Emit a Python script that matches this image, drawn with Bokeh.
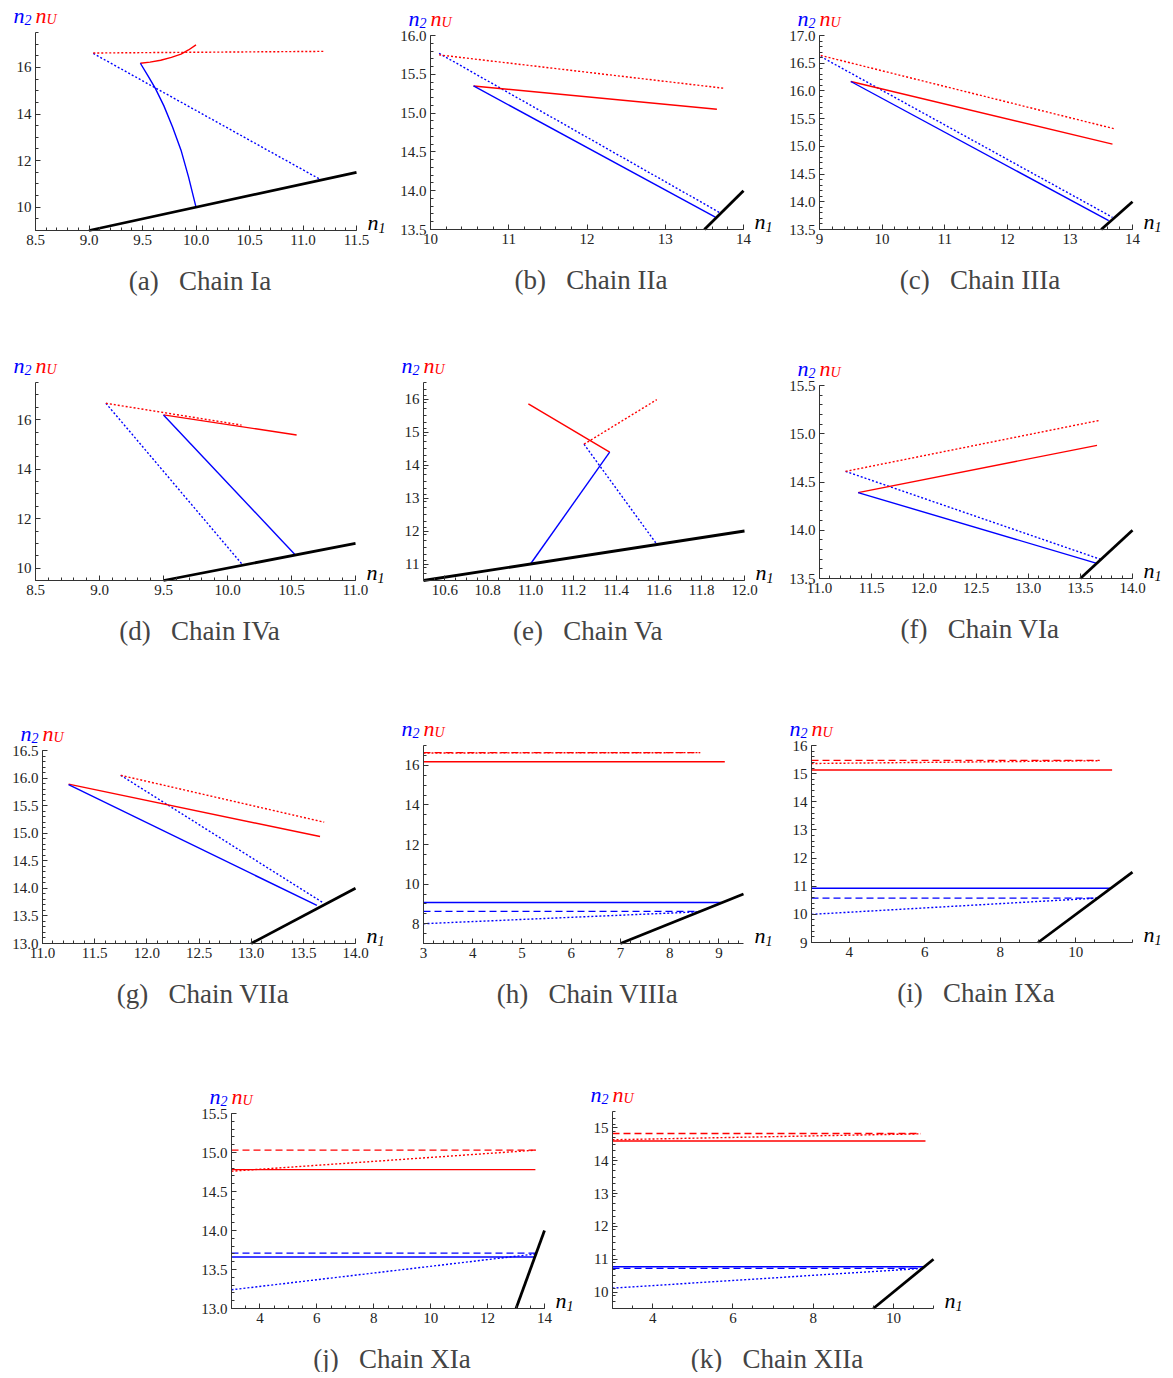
from bokeh.plotting import figure
from bokeh.models import Range1d, FixedTicker, PrintfTickFormatter, Label
from bokeh.layouts import row, column
from bokeh.embed import file_html
from bokeh.resources import INLINE
import numpy as np

BLUE = "#0000FF"
RED = "#FF0000"

# ---------------- data ----------------
# (a) Chain Ia
a_blue_solid = ([9.48, 9.55, 9.62, 9.70, 9.78, 9.86, 9.93, 10.0], [16.18, 15.65, 15.10, 14.35, 13.45, 12.45, 11.30, 10.0])
a_blue_dot = ([9.04, 11.17], [16.60, 11.17])
a_red_solid = ([9.48, 9.57, 9.67, 9.77, 9.86, 9.93, 10.0], [16.18, 16.23, 16.31, 16.43, 16.57, 16.75, 16.97])
a_red_dot = ([9.04, 11.19], [16.62, 16.69])
a_black = ([9.0, 11.5], [9.0, 11.5])
a_xticks = [8.5, 9.0, 9.5, 10.0, 10.5, 11.0, 11.5]
a_yticks = [10, 12, 14, 16]

# (b) Chain IIa
b_blue_solid = ([10.55, 13.64], [15.35, 13.66])
b_blue_dot = ([10.11, 13.71], [15.77, 13.71])
b_red_solid = ([10.55, 13.66], [15.35, 15.05])
b_red_dot = ([10.11, 13.75], [15.75, 15.32])
b_black = ([13.5, 14.0], [13.5, 14.0])
b_xticks = [10, 11, 12, 13, 14]
b_yticks = [13.5, 14.0, 14.5, 15.0, 15.5, 16.0]

# (c) Chain IIIa
c_blue_solid = ([9.50, 13.62], [16.17, 13.66])
c_blue_dot = ([9.02, 13.68], [16.62, 13.72])
c_red_solid = ([9.50, 13.68], [16.17, 15.04])
c_red_dot = ([9.02, 13.70], [16.64, 15.32])
c_black = ([13.5, 14.0], [13.5, 14.0])
c_xticks = [9, 10, 11, 12, 13, 14]
c_yticks = [13.5, 14.0, 14.5, 15.0, 15.5, 16.0, 16.5, 17.0]

# (d) Chain IVa
d_blue_solid = ([9.50, 10.53], [16.19, 10.53])
d_blue_dot = ([9.05, 10.12], [16.66, 10.12])
d_red_solid = ([9.50, 10.54], [16.19, 15.38])
d_red_dot = ([9.05, 10.11], [16.66, 15.78])
d_black = ([9.5, 11.0], [9.5, 11.0])
d_xticks = [8.5, 9.0, 9.5, 10.0, 10.5, 11.0]
d_yticks = [10, 12, 14, 16]

# (e) Chain Va
e_blue_solid = ([11.0, 11.37], [11.0, 14.39])
e_blue_dot = ([11.25, 11.59], [14.63, 11.60])
e_red_solid = ([10.99, 11.37], [15.85, 14.39])
e_red_dot = ([11.25, 11.59], [14.63, 15.98])
e_black = ([10.5, 12.0], [10.5, 12.0])
e_xticks = [10.6, 10.8, 11.0, 11.2, 11.4, 11.6, 11.8, 12.0]
e_yticks = [11, 12, 13, 14, 15, 16]

# (f) Chain VIa
f_blue_solid = ([11.37, 13.65], [14.39, 13.66])
f_blue_dot = ([11.25, 13.69], [14.61, 13.70])
f_red_solid = ([11.37, 13.66], [14.39, 14.88])
f_red_dot = ([11.25, 13.69], [14.61, 15.14])
f_black = ([13.5, 14.0], [13.5, 14.0])
f_xticks = [11.0, 11.5, 12.0, 12.5, 13.0, 13.5, 14.0]
f_yticks = [13.5, 14.0, 14.5, 15.0, 15.5]

# (g) Chain VIIa
g_blue_solid = ([11.25, 13.63], [15.88, 13.69])
g_blue_dot = ([11.75, 13.68], [16.05, 13.75])
g_red_solid = ([11.25, 13.66], [15.89, 14.94])
g_red_dot = ([11.75, 13.70], [16.05, 15.20])
g_black = ([13.0, 14.0], [13.0, 14.0])
g_xticks = [11.0, 11.5, 12.0, 12.5, 13.0, 13.5, 14.0]
g_yticks = [13.0, 13.5, 14.0, 14.5, 15.0, 15.5, 16.0, 16.5]

# (h) Chain VIIIa
h_blue_solid = ([3, 9.05], [9.07, 9.07])
h_blue_dash = ([3, 8.6], [8.62, 8.62])
h_blue_dot = ([3, 8.6], [8.0, 8.6])
h_red_solid = ([3, 9.12], [16.18, 16.18])
h_red_dash = ([3, 8.62], [16.64, 16.64])
h_red_dot = ([3, 8.62], [16.62, 16.64])
h_black = ([7.0, 9.5], [7.0, 9.5])
h_xticks = [3, 4, 5, 6, 7, 8, 9]
h_yticks = [8, 10, 12, 14, 16]

# (i) Chain IXa
i_blue_solid = ([3, 10.95], [10.93, 10.93])
i_blue_dash = ([3, 10.6], [10.58, 10.58])
i_blue_dot = ([3, 10.6], [10.0, 10.58])
i_red_solid = ([3, 10.96], [15.13, 15.13])
i_red_dash = ([3, 10.63], [15.47, 15.47])
i_red_dot = ([3, 10.63], [15.36, 15.46])
i_black = ([9.0, 11.5], [9.0, 11.5])
i_xticks = [4, 6, 8, 10]
i_yticks = [9, 10, 11, 12, 13, 14, 15, 16]

# (j) Chain XIa
j_blue_solid = ([3, 13.66], [13.66, 13.66])
j_blue_dash = ([3, 13.7], [13.71, 13.71])
j_blue_dot = ([3, 13.7], [13.24, 13.70])
j_red_solid = ([3, 13.68], [14.78, 14.78])
j_red_dash = ([3, 13.69], [15.03, 15.03])
j_red_dot = ([3, 13.69], [14.76, 15.03])
j_black = ([13.0, 14.0], [13.0, 14.0])
j_xticks = [4, 6, 8, 10, 12, 14]
j_yticks = [13.0, 13.5, 14.0, 14.5, 15.0, 15.5]

# (k) Chain XIIa
k_blue_solid = ([3, 10.77], [10.77, 10.77])
k_blue_dash = ([3, 10.7], [10.72, 10.72])
k_blue_dot = ([3, 10.7], [10.12, 10.72])
k_red_solid = ([3, 10.8], [14.60, 14.60])
k_red_dash = ([3, 10.68], [14.83, 14.83])
k_red_dot = ([3, 10.68], [14.64, 14.82])
k_black = ([9.5, 11.0], [9.5, 11.0])
k_xticks = [4, 6, 8, 10]
k_yticks = [10, 11, 12, 13, 14, 15]

# ---------------- styling ----------------
SERIF = "Liberation Serif"
AX = "#333333"
DOT = "2 2"
DASH = "7 4"


def make_panel(letter, name, xr, yr, xt, yt, xfmt, yfmt, xminor, yminor, series, geom):
    # geom: cell width/height, frame offset left, frame width, frame offset top, frame height (pixels)
    cw, ch, L, W, T, H = geom
    sx = W / (xr[1] - xr[0])
    sy = H / (yr[1] - yr[0])
    B = ch - T - H
    x0 = xr[0] - L / sx
    x1 = xr[0] + (cw - L) / sx
    y0 = yr[0] - B / sy
    y1 = yr[1] + T / sy
    p = figure(frame_width=cw, frame_height=ch, min_border=0,
               x_range=Range1d(x0, x1), y_range=Range1d(y0, y1),
               output_backend="svg", toolbar_location=None)
    p.grid.visible = False
    p.outline_line_color = None
    p.background_fill_color = "white"
    p.border_fill_color = "white"

    xminors = [round(float(v), 4) for v in np.arange(xr[0], xr[1] + 1e-9, xminor)]
    yminors = [round(float(v), 4) for v in np.arange(yr[0], yr[1] + 1e-9, yminor)]
    p.xaxis.ticker = FixedTicker(ticks=xt, minor_ticks=xminors)
    p.yaxis.ticker = FixedTicker(ticks=yt, minor_ticks=yminors)
    p.xaxis.formatter = PrintfTickFormatter(format=xfmt)
    p.yaxis.formatter = PrintfTickFormatter(format=yfmt)
    p.xaxis.fixed_location = yr[0]
    p.yaxis.fixed_location = xr[0]
    p.xaxis.bounds = (xr[0], xr[1])
    p.yaxis.bounds = (yr[0], yr[1])
    for ax in (p.xaxis, p.yaxis):
        ax.axis_line_color = AX
        ax.axis_line_width = 1
        ax.major_tick_in = 5
        ax.major_tick_out = 0
        ax.minor_tick_in = 3
        ax.minor_tick_out = 0
        ax.major_tick_line_color = AX
        ax.minor_tick_line_color = AX
        ax.major_label_text_font = SERIF
        ax.major_label_text_font_size = "15px"
        ax.major_label_text_color = "#222222"
        ax.major_label_standoff = 4

    for (xs, ys), color, dash, lw in series:
        p.line(xs, ys, line_color=color, line_width=lw, line_dash=dash)

    def lab(x, y, xo, yo, text, color, size, italic=True, align="left", baseline="alphabetic"):
        p.add_layout(Label(x=x, y=y, x_offset=xo, y_offset=yo, text=text,
                           text_color=color, text_font=SERIF,
                           text_font_style="italic" if italic else "normal",
                           text_font_size=size, text_align=align,
                           text_baseline=baseline))

    # y-axis label  n2 nU
    lab(xr[0], yr[1], -22, 17, "n", BLUE, "22px")
    lab(xr[0], yr[1], -11, 13, "2", BLUE, "14px")
    lab(xr[0], yr[1], 0, 17, "n", RED, "22px")
    lab(xr[0], yr[1], 11, 13, "U", RED, "14px")
    # x-axis label n1
    lab(xr[1], yr[0], 11, 8, "n", "black", "22px")
    lab(xr[1], yr[0], 22, 3, "1", "black", "14px")
    # caption
    p.add_layout(Label(x=(xr[0] + xr[1]) / 2, y=yr[0], x_offset=4, y_offset=-50,
                       text="(" + letter + ")\u00a0\u00a0\u00a0" + name,
                       text_color="#444444", text_font=SERIF, text_font_size="27px",
                       text_align="center", text_baseline="middle"))
    return p


def four(bs, bd, rs, rd, bk):
    return [(bd, BLUE, DOT, 1.4), (rd, RED, DOT, 1.4), (rs, RED, "solid", 1.4),
            (bs, BLUE, "solid", 1.4), (bk, "black", "solid", 2.8)]


def six(bs, bda, bd, rs, rda, rd, bk):
    return [(bd, BLUE, DOT, 1.4), (bda, BLUE, DASH, 1.3), (bs, BLUE, "solid", 1.4),
            (rd, RED, DOT, 1.4), (rda, RED, DASH, 1.3), (rs, RED, "solid", 1.4),
            (bk, "black", "solid", 2.8)]


pa = make_panel("a", "Chain Ia", (8.5, 11.5), (9, 17.5), a_xticks, a_yticks, "%.1f", "%d", 0.1, 0.5,
                four(a_blue_solid, a_blue_dot, a_red_solid, a_red_dot, a_black), (398, 340, 35, 321, 32, 198))
pb = make_panel("b", "Chain IIa", (10, 14), (13.5, 16.0), b_xticks, b_yticks, "%d", "%.1f", 0.2, 0.1,
                four(b_blue_solid, b_blue_dot, b_red_solid, b_red_dot, b_black), (390, 340, 32, 313, 35, 194))
pc = make_panel("c", "Chain IIIa", (9, 14), (13.5, 17.0), c_xticks, c_yticks, "%d", "%.1f", 0.2, 0.1,
                four(c_blue_solid, c_blue_dot, c_red_solid, c_red_dot, c_black), (380, 340, 31, 313, 35, 194))

pd = make_panel("d", "Chain IVa", (8.5, 11.0), (9.5, 17.5), d_xticks, d_yticks, "%.1f", "%d", 0.1, 0.5,
                four(d_blue_solid, d_blue_dot, d_red_solid, d_red_dot, d_black), (398, 360, 35, 320, 42, 198))
pe = make_panel("e", "Chain Va", (10.5, 12.0), (10.5, 16.5), e_xticks, e_yticks, "%.1f", "%d", 0.05, 0.2,
                four(e_blue_solid, e_blue_dot, e_red_solid, e_red_dot, e_black), (390, 360, 25, 321, 42, 198))
pf = make_panel("f", "Chain VIa", (11.0, 14.0), (13.5, 15.5), f_xticks, f_yticks, "%.1f", "%.1f", 0.1, 0.1,
                four(f_blue_solid, f_blue_dot, f_red_solid, f_red_dot, f_black), (380, 360, 31, 313, 45, 193))

pg = make_panel("g", "Chain VIIa", (11.0, 14.0), (13.0, 16.5), g_xticks, g_yticks, "%.1f", "%.1f", 0.1, 0.1,
                four(g_blue_solid, g_blue_dot, g_red_solid, g_red_dot, g_black), (398, 365, 42, 313, 50, 193))
ph = make_panel("h", "Chain VIIIa", (3, 9.5), (7, 17), h_xticks, h_yticks, "%d", "%d", 0.2, 0.5,
                six(h_blue_solid, h_blue_dash, h_blue_dot, h_red_solid, h_red_dash, h_red_dot, h_black),
                (390, 365, 25, 320, 45, 198))
pi = make_panel("i", "Chain IXa", (3, 11.5), (9, 16), i_xticks, i_yticks, "%d", "%d", 0.5, 0.2,
                six(i_blue_solid, i_blue_dash, i_blue_dot, i_red_solid, i_red_dash, i_red_dot, i_black),
                (380, 365, 23, 321, 45, 197))

pj = make_panel("j", "Chain XIa", (3, 14), (13.0, 15.5), j_xticks, j_yticks, "%d", "%.1f", 0.5, 0.1,
                six(j_blue_solid, j_blue_dash, j_blue_dot, j_red_solid, j_red_dash, j_red_dot, j_black),
                (590, 307, 231, 313, 48, 195))
pk = make_panel("k", "Chain XIIa", (3, 11), (9.5, 15.5), k_xticks, k_yticks, "%d", "%d", 0.5, 0.2,
                six(k_blue_solid, k_blue_dash, k_blue_dot, k_red_solid, k_red_dash, k_red_dot, k_black),
                (578, 307, 22, 321, 46, 197))

layout = column(row(pa, pb, pc), row(pd, pe, pf), row(pg, ph, pi), row(pj, pk))

open("out.html", "w").write(file_html(layout, INLINE))
